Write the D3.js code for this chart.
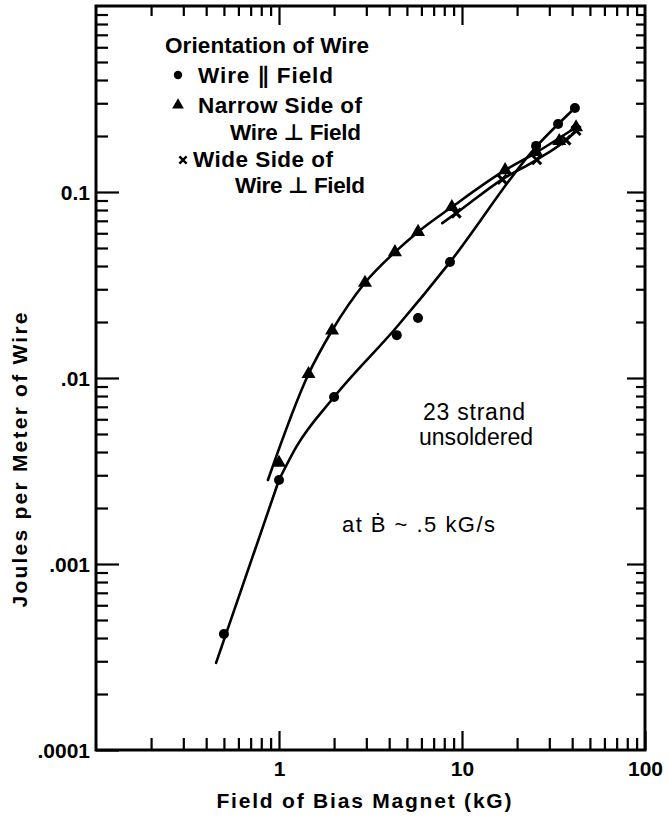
<!DOCTYPE html>
<html>
<head>
<meta charset="utf-8">
<script src="https://cdn.jsdelivr.net/npm/d3@7"></script>
<style>
  html, body { margin: 0; padding: 0; background: #fff; }
  svg { display: block; }
</style>
</head>
<body>
<svg id="chart" width="668" height="818"></svg>
<script>
// Energy dissipated per meter of 23-strand unsoldered wire versus bias field (log–log)

const xTicksMajor = [1, 10, 100];
const xTickLabels = ["1", "10", "100"];
const yTicksMajor = [0.0001, 0.001, 0.01, 0.1];
const yTickLabels = [".0001", ".001", ".01", "0.1"];

// Measured points: [field (kG), joules per meter]
const wireParallel = [[0.5, 0.00042], [1, 0.00283], [2, 0.0079], [4.4, 0.017], [5.75, 0.021],
                      [8.6, 0.042], [25.4, 0.177], [33.5, 0.232], [41.4, 0.283]];
const narrowPerp = [[1, 0.0035], [1.45, 0.0105], [1.95, 0.018], [2.95, 0.0325], [4.3, 0.0475],
                    [5.75, 0.061], [8.8, 0.083], [17.2, 0.131], [25.4, 0.164], [34, 0.188], [42, 0.223]];
const widePerp = [[9.3, 0.077], [16.6, 0.117], [25.6, 0.149], [37, 0.19], [42, 0.214]];

// Hand-fitted curves: the parallel-field curve is straight below 1 kG, then bends
const wireParallelLow = [[0.453, 0.000294], [1, 0.00283]];
const wireParallelHigh = [[1, 0.00283], [1.25, 0.0043], [2, 0.0079], [4.4, 0.0188],
                          [8.6, 0.042], [25.4, 0.175], [41.4, 0.283]];
const narrowPerpCurve = [[0.87, 0.00283], [1.45, 0.0105], [1.95, 0.018], [2.95, 0.0325],
                         [4.3, 0.0475], [5.75, 0.061], [8.8, 0.083], [17.2, 0.131], [25.4, 0.163], [42, 0.223]];
const widePerpCurve = [[7.8, 0.068], [9.3, 0.077], [16.6, 0.117], [25.6, 0.149], [37, 0.19], [42, 0.212]];

const legendTitle = "Orientation of Wire";
const legendRows = [
  { symbol: "circle",   lines: ["Wire \u2225 Field"] },
  { symbol: "triangle", lines: ["Narrow Side of", "Wire \u22A5 Field"] },
  { symbol: "x",        lines: ["Wide Side of", "Wire \u22A5 Field"] }
];
const noteStrand = ["23 strand", "unsoldered"];
const noteRate = "at \u1E02 ~ .5 kG/s";
const xTitle = "Field of Bias Magnet (kG)";
const yTitle = "Joules per Meter of Wire";

const FONT = "'Liberation Sans', Arial, 'DejaVu Sans', sans-serif";
const svg = d3.select("#chart");

const plot = { left: 96, right: 645, top: 6, bottom: 750 };
const x = d3.scaleLog().domain([0.1, 100]).range([plot.left, plot.right]);
const y = d3.scaleLog().domain([1e-4, 1]).range([plot.bottom, plot.top]);

const isDecade = v => Math.abs(Math.log10(v) - Math.round(Math.log10(v))) < 1e-9;
const xMinor = x.ticks().filter(v => !isDecade(v));
const yMinor = y.ticks().filter(v => !isDecade(v));

function styleAxis(g) {
  g.select(".domain").remove();
  g.selectAll(".tick line").attr("stroke", "#000").attr("stroke-width", 2.2);
  g.selectAll(".tick text")
    .attr("fill", "#000")
    .style("font-family", FONT)
    .style("font-size", "21px")
    .style("font-weight", "bold");
}

// bottom
svg.append("g").attr("transform", `translate(0,${plot.bottom})`)
  .call(d3.axisBottom(x).tickValues(xMinor).tickSize(-12).tickFormat(""))
  .call(styleAxis);
svg.append("g").attr("transform", `translate(0,${plot.bottom})`)
  .call(d3.axisBottom(x).tickValues(xTicksMajor).tickSize(-19).tickPadding(11)
        .tickFormat((d, i) => xTickLabels[i]))
  .call(styleAxis);
// top
svg.append("g").attr("transform", `translate(0,${plot.top})`)
  .call(d3.axisTop(x).tickValues(xMinor).tickSize(-10).tickFormat(""))
  .call(styleAxis);
svg.append("g").attr("transform", `translate(0,${plot.top})`)
  .call(d3.axisTop(x).tickValues([1, 10]).tickSize(-19).tickFormat(""))
  .call(styleAxis);
// left
svg.append("g").attr("transform", `translate(${plot.left},0)`)
  .call(d3.axisLeft(y).tickValues(yMinor).tickSize(-12).tickFormat(""))
  .call(styleAxis);
const yMajorG = svg.append("g").attr("transform", `translate(${plot.left},0)`)
  .call(d3.axisLeft(y).tickValues(yTicksMajor).tickSize(-23).tickPadding(6)
        .tickFormat((d, i) => yTickLabels[i]))
  .call(styleAxis);
yMajorG.selectAll(".tick text").attr("dy", "0.36em");
// right
svg.append("g").attr("transform", `translate(${plot.right},0)`)
  .call(d3.axisRight(y).tickValues(yMinor).tickSize(-9).tickFormat(""))
  .call(styleAxis);
svg.append("g").attr("transform", `translate(${plot.right},0)`)
  .call(d3.axisRight(y).tickValues([0.001, 0.01, 0.1]).tickSize(-18).tickFormat(""))
  .call(styleAxis);

// frame
svg.append("rect")
  .attr("x", plot.left).attr("y", plot.top)
  .attr("width", plot.right - plot.left).attr("height", plot.bottom - plot.top)
  .attr("fill", "none").attr("stroke", "#000").attr("stroke-width", 3);

// curves
const smooth = d3.line().x(d => x(d[0])).y(d => y(d[1])).curve(d3.curveMonotoneX);
const straight = d3.line().x(d => x(d[0])).y(d => y(d[1]));
function drawCurve(d) {
  svg.append("path").attr("d", d)
    .attr("fill", "none").attr("stroke", "#000")
    .attr("stroke-width", 2.6).attr("stroke-linecap", "round").attr("stroke-linejoin", "round");
}
drawCurve(straight(wireParallelLow));
drawCurve(smooth(wireParallelHigh));
drawCurve(smooth(narrowPerpCurve));
drawCurve(smooth(widePerpCurve));

// markers
const triPath = d3.symbol(d3.symbolTriangle).size(85)();
const xHalf = 4.5;
const xPath = `M${-xHalf},${-xHalf}L${xHalf},${xHalf}M${-xHalf},${xHalf}L${xHalf},${-xHalf}`;

function drawMarker(g, kind, cx, cy) {
  if (kind === "circle") {
    g.append("circle").attr("cx", cx).attr("cy", cy).attr("r", 5).attr("fill", "#000");
  } else if (kind === "triangle") {
    g.append("path").attr("d", triPath).attr("transform", `translate(${cx},${cy})`).attr("fill", "#000");
  } else {
    g.append("path").attr("d", xPath).attr("transform", `translate(${cx},${cy})`)
      .attr("stroke", "#000").attr("stroke-width", 3).attr("fill", "none");
  }
}
const markers = svg.append("g");
wireParallel.forEach(d => drawMarker(markers, "circle", x(d[0]), y(d[1])));
narrowPerp.forEach(d => drawMarker(markers, "triangle", x(d[0]), y(d[1])));
widePerp.forEach(d => drawMarker(markers, "x", x(d[0]), y(d[1])));

// legend
const leg = svg.append("g")
  .style("font-family", FONT).style("font-weight", "bold").style("font-size", "22.5px")
  .attr("fill", "#000");
leg.append("text").attr("x", 165).attr("y", 53).attr("textLength", 204).attr("lengthAdjust", "spacing")
  .text(legendTitle);

const rowLayout = [
  { mx: 178, my: 75, texts: [{ x: 198, y: 83, w: 135 }] },
  { mx: 178, my: 105, texts: [{ x: 198, y: 113, w: 164 }, { x: 230, y: 140, w: 131 }] },
  { mx: 183, my: 160, texts: [{ x: 193, y: 167, w: 140 }, { x: 235, y: 193, w: 130 }] }
];
legendRows.forEach((row, i) => {
  const L = rowLayout[i];
  if (row.symbol === "x") {
    leg.append("path").attr("d", `M-3.6,-3.6L3.6,3.6M-3.6,3.6L3.6,-3.6`)
      .attr("transform", `translate(${L.mx},${L.my})`)
      .attr("stroke", "#000").attr("stroke-width", 2.4).attr("fill", "none");
  } else if (row.symbol === "triangle") {
    leg.append("path").attr("d", d3.symbol(d3.symbolTriangle).size(60)())
      .attr("transform", `translate(${L.mx},${L.my})`).attr("fill", "#000");
  } else {
    leg.append("circle").attr("cx", L.mx).attr("cy", L.my).attr("r", 4.2).attr("fill", "#000");
  }
  row.lines.forEach((t, j) => {
    const p = L.texts[j];
    leg.append("text").attr("x", p.x).attr("y", p.y)
      .attr("textLength", p.w).attr("lengthAdjust", "spacing").text(t);
  });
});

// notes
const notes = svg.append("g").style("font-family", FONT).style("font-size", "23px").attr("fill", "#000");
notes.append("text").attr("x", 474).attr("y", 420).attr("text-anchor", "middle")
  .attr("textLength", 102).attr("lengthAdjust", "spacing").text(noteStrand[0]);
notes.append("text").attr("x", 476).attr("y", 445).attr("text-anchor", "middle")
  .attr("textLength", 114).attr("lengthAdjust", "spacing").text(noteStrand[1]);
notes.append("text").attr("x", 342).attr("y", 532).style("font-size", "22px")
  .attr("textLength", 153).attr("lengthAdjust", "spacing").text(noteRate);

// axis titles
svg.append("text")
  .attr("x", 364).attr("y", 808).attr("text-anchor", "middle")
  .style("font-family", FONT).style("font-weight", "bold").style("font-size", "21px")
  .attr("textLength", 295).attr("lengthAdjust", "spacing")
  .text(xTitle);
svg.append("text")
  .attr("transform", "translate(27,460) rotate(-90)")
  .attr("text-anchor", "middle")
  .style("font-family", FONT).style("font-weight", "bold").style("font-size", "21px")
  .attr("textLength", 295).attr("lengthAdjust", "spacing")
  .text(yTitle);
</script>
</body>
</html>
